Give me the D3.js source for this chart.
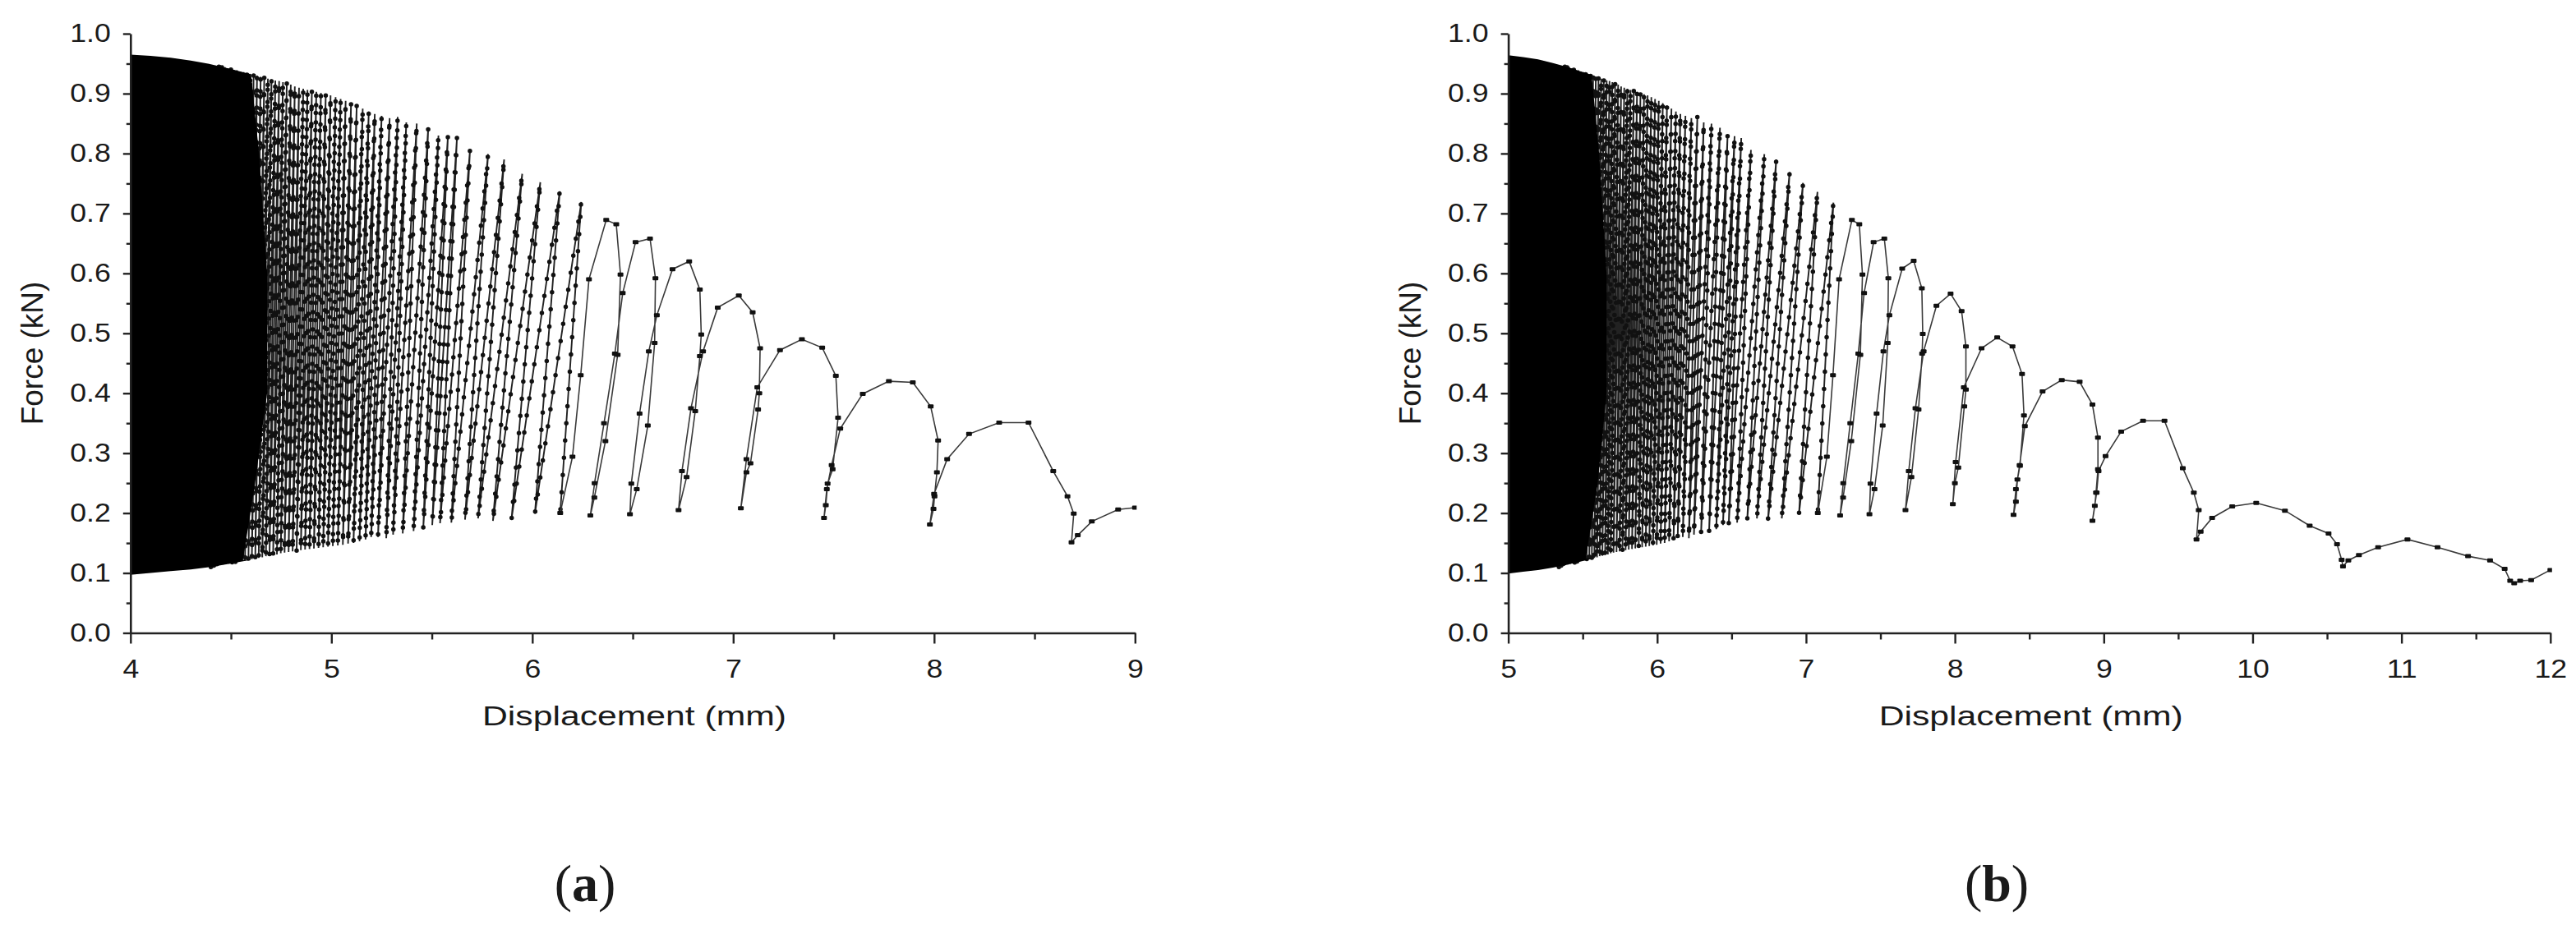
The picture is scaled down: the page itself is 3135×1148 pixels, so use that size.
<!DOCTYPE html>
<html>
<head>
<meta charset="UTF-8">
<title>Force - Displacement</title>
<script src="https://d3js.org/d3.v7.min.js"></script>
<style>
  body { margin: 0; background: #fff; }
  svg text { font-family: "Liberation Sans", Arial, sans-serif; fill: #1a1a1a; }
</style>
</head>
<body>
<svg id="fig" width="3135" height="1148"></svg>
<script>
// ---- panel (a) ----
// solid black block at the start (outline of the very dense cycles)
var aEnvX   = [4.0, 4.1, 4.2, 4.3, 4.4, 4.5, 4.6];
var aEnvTop = [0.965, 0.963, 0.960, 0.955, 0.949, 0.941, 0.932];
var aEnvBot = [0.097, 0.100, 0.103, 0.106, 0.110, 0.116, 0.122];
var aEdgeF  = [0.932, 0.80, 0.60, 0.40, 0.25, 0.122];
var aEdgeX  = [4.60, 4.64, 4.68, 4.68, 4.62, 4.56];
// narrow cycles: valley and peak of every cycle
var aMinX = [4.40, 4.415, 4.43, 4.445, 4.46, 4.475, 4.49, 4.506, 4.522, 4.538,
             4.554, 4.57, 4.587, 4.604, 4.621, 4.638, 4.656, 4.674, 4.692, 4.71,
             4.729, 4.748, 4.767, 4.787, 4.807, 4.827, 4.848, 4.869, 4.891, 4.913,
             4.936, 4.959, 4.983, 5.007, 5.032, 5.057, 5.083, 5.11, 5.14, 5.17,
             5.198, 5.232, 5.273, 5.307, 5.355, 5.409, 5.457, 5.502, 5.541, 5.597,
             5.665, 5.73, 5.804, 5.897, 6.013, 6.139];
var aMinF = [0.110, 0.111, 0.112, 0.113, 0.114, 0.115, 0.116, 0.117, 0.118, 0.119,
             0.120, 0.121, 0.122, 0.123, 0.124, 0.125, 0.126, 0.128, 0.129, 0.130,
             0.131, 0.133, 0.134, 0.135, 0.136, 0.137, 0.138, 0.139, 0.140, 0.141,
             0.142, 0.143, 0.144, 0.145, 0.146, 0.147, 0.149, 0.150, 0.153, 0.156,
             0.160, 0.160, 0.158, 0.164, 0.166, 0.170, 0.173, 0.180, 0.183, 0.184,
             0.189, 0.191, 0.187, 0.191, 0.199, 0.200];
var aPeakX = [4.44, 4.455, 4.47, 4.485, 4.50, 4.515, 4.53, 4.547, 4.563, 4.58,
              4.596, 4.613, 4.63, 4.648, 4.666, 4.684, 4.702, 4.721, 4.74, 4.759,
              4.778, 4.798, 4.818, 4.839, 4.86, 4.881, 4.903, 4.925, 4.948, 4.972,
              4.996, 5.021, 5.046, 5.071, 5.098, 5.126, 5.156, 5.186, 5.216, 5.25,
              5.29, 5.33, 5.373, 5.425, 5.482, 5.533, 5.58, 5.625, 5.69, 5.78,
              5.86, 5.95, 6.04, 6.137, 6.244];
var aPeakF = [0.946, 0.944, 0.944, 0.942, 0.941, 0.939, 0.939, 0.937, 0.936, 0.934,
              0.933, 0.931, 0.930, 0.928, 0.927, 0.925, 0.924, 0.922, 0.921, 0.919,
              0.917, 0.915, 0.912, 0.910, 0.908, 0.906, 0.905, 0.903, 0.901, 0.899,
              0.897, 0.894, 0.891, 0.888, 0.884, 0.880, 0.875, 0.870, 0.866, 0.863,
              0.859, 0.861, 0.852, 0.850, 0.843, 0.830, 0.829, 0.826, 0.806, 0.799,
              0.790, 0.766, 0.752, 0.737, 0.719];
// wide cycles, every recorded point
var aTailX = [6.139, 6.2, 6.241, 6.282, 6.368, 6.418, 6.439, 6.425, 6.364, 6.309, 6.289,
              6.31, 6.357, 6.411, 6.45, 6.514, 6.586, 6.613, 6.609, 6.575, 6.52, 6.486,
              6.493, 6.534, 6.58, 6.62, 6.698, 6.781, 6.834, 6.841, 6.834, 6.811, 6.768, 6.728,
              6.745, 6.79, 6.85, 6.923, 7.028, 7.097, 7.134, 7.13, 7.124, 7.086, 7.066, 7.038,
              7.066, 7.12, 7.233, 7.342, 7.443, 7.511, 7.522, 7.495, 7.47, 7.461, 7.452,
              7.466, 7.49, 7.533, 7.645, 7.775, 7.894, 7.983, 8.02, 8.014, 8.002, 7.997, 7.979,
              8.0, 8.065, 8.174, 8.324, 8.47, 8.593, 8.664, 8.695, 8.684, 8.715, 8.785, 8.916, 9.0];
var aTailF = [0.200, 0.294, 0.430, 0.590, 0.689, 0.682, 0.598, 0.464, 0.320, 0.226, 0.196,
              0.250, 0.350, 0.466, 0.567, 0.652, 0.658, 0.592, 0.484, 0.346, 0.240, 0.198,
              0.249, 0.366, 0.470, 0.530, 0.607, 0.620, 0.573, 0.498, 0.462, 0.370, 0.260, 0.205,
              0.270, 0.375, 0.470, 0.543, 0.563, 0.535, 0.475, 0.400, 0.373, 0.283, 0.268, 0.208,
              0.290, 0.410, 0.472, 0.490, 0.476, 0.429, 0.359, 0.273, 0.249, 0.213, 0.192,
              0.240, 0.280, 0.341, 0.399, 0.420, 0.418, 0.378, 0.321, 0.268, 0.228, 0.207, 0.181,
              0.232, 0.290, 0.332, 0.351, 0.351, 0.270, 0.228, 0.199, 0.151, 0.163, 0.186, 0.206, 0.209];

// ---- panel (b) ----
var bEnvX   = [5.0, 5.1, 5.2, 5.3, 5.4, 5.5, 5.56];
var bEnvTop = [0.964, 0.961, 0.957, 0.951, 0.944, 0.936, 0.931];
var bEnvBot = [0.099, 0.102, 0.105, 0.109, 0.114, 0.120, 0.124];
var bEdgeF  = [0.931, 0.80, 0.60, 0.40, 0.25, 0.124];
var bEdgeX  = [5.56, 5.61, 5.66, 5.66, 5.60, 5.52];
var bMinX = [5.34, 5.355, 5.37, 5.385, 5.40, 5.415, 5.43, 5.446, 5.462, 5.478,
             5.494, 5.51, 5.527, 5.544, 5.561, 5.578, 5.596, 5.614, 5.632, 5.65,
             5.669, 5.688, 5.707, 5.727, 5.747, 5.767, 5.788, 5.809, 5.831, 5.853,
             5.876, 5.899, 5.923, 5.947, 5.972, 5.997, 6.023, 6.05, 6.08, 6.11,
             6.138, 6.172, 6.213, 6.247, 6.295, 6.349, 6.397, 6.442, 6.481, 6.537,
             6.605, 6.67, 6.744, 6.837, 6.953, 7.079];
var bMinF = [0.110, 0.111, 0.112, 0.113, 0.114, 0.115, 0.116, 0.117, 0.118, 0.119,
             0.120, 0.121, 0.122, 0.123, 0.124, 0.125, 0.126, 0.128, 0.129, 0.130,
             0.131, 0.133, 0.134, 0.135, 0.136, 0.137, 0.138, 0.139, 0.140, 0.141,
             0.142, 0.143, 0.144, 0.145, 0.146, 0.147, 0.149, 0.150, 0.153, 0.156,
             0.160, 0.160, 0.158, 0.164, 0.166, 0.170, 0.173, 0.180, 0.183, 0.184,
             0.189, 0.191, 0.187, 0.191, 0.199, 0.200];
var bPeakX = [5.38, 5.395, 5.41, 5.425, 5.44, 5.455, 5.47, 5.487, 5.503, 5.52,
              5.536, 5.553, 5.57, 5.588, 5.606, 5.624, 5.642, 5.661, 5.68, 5.699,
              5.718, 5.738, 5.758, 5.779, 5.80, 5.821, 5.843, 5.865, 5.888, 5.912,
              5.936, 5.961, 5.986, 6.011, 6.038, 6.066, 6.096, 6.126, 6.156, 6.19,
              6.23, 6.27, 6.313, 6.365, 6.422, 6.473, 6.52, 6.565, 6.63, 6.72,
              6.8, 6.89, 6.98, 7.077, 7.184];
var bPeakF = [0.946, 0.944, 0.944, 0.942, 0.941, 0.939, 0.939, 0.937, 0.936, 0.934,
              0.933, 0.931, 0.930, 0.928, 0.927, 0.925, 0.924, 0.922, 0.921, 0.919,
              0.917, 0.915, 0.912, 0.910, 0.908, 0.906, 0.905, 0.903, 0.901, 0.899,
              0.897, 0.894, 0.891, 0.888, 0.884, 0.880, 0.875, 0.870, 0.866, 0.863,
              0.859, 0.861, 0.852, 0.850, 0.843, 0.830, 0.829, 0.826, 0.806, 0.799,
              0.790, 0.769, 0.751, 0.736, 0.718];
var bTailX = [7.079, 7.14, 7.181, 7.222, 7.308, 7.358, 7.379, 7.365, 7.304, 7.249, 7.229,
              7.25, 7.297, 7.351, 7.39, 7.454, 7.526, 7.553, 7.549, 7.515, 7.46, 7.426,
              7.433, 7.474, 7.52, 7.56, 7.646, 7.723, 7.778, 7.784, 7.78, 7.756, 7.708, 7.668,
              7.69, 7.735, 7.79, 7.876, 7.971, 8.045, 8.074, 8.074, 8.063, 8.023, 8.0, 7.986,
              8.005, 8.06, 8.179, 8.284, 8.387, 8.451, 8.464, 8.437, 8.42, 8.41, 8.394,
              8.41, 8.435, 8.47, 8.589, 8.718, 8.838, 8.924, 8.961, 8.961, 8.948, 8.94, 8.924,
              8.952, 8.965, 9.012, 9.117, 9.264, 9.408, 9.531, 9.605, 9.638, 9.623,
              9.651, 9.728, 9.863, 10.024, 10.217, 10.383, 10.51, 10.567, 10.598, 10.607,
              10.643, 10.714, 10.843, 11.04, 11.242, 11.447, 11.595, 11.693, 11.73, 11.757, 11.797, 11.871, 12.0];
var bTailF = [0.200, 0.294, 0.430, 0.590, 0.689, 0.682, 0.598, 0.464, 0.320, 0.226, 0.196,
              0.250, 0.350, 0.466, 0.567, 0.652, 0.658, 0.592, 0.484, 0.346, 0.240, 0.198,
              0.249, 0.366, 0.470, 0.530, 0.608, 0.621, 0.575, 0.499, 0.466, 0.373, 0.260, 0.205,
              0.270, 0.375, 0.470, 0.546, 0.566, 0.537, 0.478, 0.406, 0.378, 0.276, 0.250, 0.215,
              0.285, 0.410, 0.475, 0.493, 0.478, 0.432, 0.363, 0.279, 0.256, 0.219, 0.197,
              0.240, 0.280, 0.345, 0.403, 0.422, 0.419, 0.381, 0.326, 0.273, 0.234, 0.212, 0.187,
              0.234, 0.270, 0.295, 0.336, 0.354, 0.354, 0.275, 0.234, 0.205, 0.156,
              0.169, 0.192, 0.211, 0.217, 0.204, 0.179, 0.166, 0.148, 0.122, 0.111,
              0.121, 0.130, 0.143, 0.156, 0.143, 0.128, 0.121, 0.107, 0.087, 0.083, 0.087, 0.088, 0.105];

var forceTicks = [0, 0.1, 0.2, 0.3, 0.4, 0.5, 0.6, 0.7, 0.8, 0.9, 1.0];

var svg = d3.select("#fig");

function stretch(sel, k) {
  sel.each(function() {
    var w = this.getComputedTextLength();
    this.setAttribute("textLength", w * k);
    this.setAttribute("lengthAdjust", "spacingAndGlyphs");
  });
}

function panel(o) {
  var x = d3.scaleLinear().domain(o.domain).range(o.range);
  var y = d3.scaleLinear().domain([0, 1]).range([770.5, 41]);
  var g = svg.append("g");

  g.append("clipPath").attr("id", "clip" + o.id)
    .append("rect")
    .attr("x", o.range[0]).attr("y", 30)
    .attr("width", o.range[1] - o.range[0] + 2).attr("height", 745);
  var plot = g.append("g").attr("clip-path", "url(#clip" + o.id + ")");

  var line = d3.line().x(function(d) { return x(d[0]); }).y(function(d) { return y(d[1]); });

  // narrow cycles
  var loops = [];
  o.minX.forEach(function(m, i) {
    loops.push([m, o.minF[i]]);
    if (i < o.peakX.length) loops.push([o.peakX[i], o.peakF[i]]);
  });
  plot.append("path").datum(loops)
    .attr("fill", "none").attr("stroke", "#222").attr("stroke-width", 1.9)
    .attr("d", line);
  plot.append("path").datum(loops)
    .attr("fill", "none").attr("stroke", "#111").attr("stroke-width", 5.5)
    .attr("stroke-linecap", "round").attr("stroke-dasharray", "0 21")
    .attr("d", line);

  // dense part drawn over them: top envelope, right edge, bottom envelope back
  var block = o.envX.map(function(d, i) { return [d, o.envTop[i]]; });
  o.edgeX.forEach(function(d, i) { block.push([d, o.edgeF[i]]); });
  for (var i = o.envX.length - 1; i >= 0; i--) block.push([o.envX[i], o.envBot[i]]);
  plot.append("path").datum(block)
    .attr("fill", "#000")
    .attr("d", line.curve(d3.curveLinearClosed));
  line.curve(d3.curveLinear);

  // wide cycles
  var tail = o.tailX.map(function(d, i) { return [d, o.tailF[i]]; });
  plot.append("path").datum(tail)
    .attr("fill", "none").attr("stroke", "#3a3a3a").attr("stroke-width", 1.6)
    .attr("d", line);
  plot.selectAll(".pt").data(tail).enter().append("rect")
    .attr("x", function(d) { return x(d[0]) - 3.5; })
    .attr("y", function(d) { return y(d[1]) - 2.5; })
    .attr("width", 7).attr("height", 5).attr("rx", 1)
    .attr("fill", "#111");

  // axes
  var ya = g.append("g").attr("transform", "translate(" + o.range[0] + ",0)")
    .call(d3.axisLeft(y).tickValues(forceTicks).tickFormat(d3.format(".1f"))
      .tickSize(9).tickSizeOuter(0).tickPadding(15));
  g.append("g").attr("transform", "translate(" + o.range[0] + ",0)")
    .call(d3.axisLeft(y).tickValues(forceTicks.slice(0, 10).map(function(d) { return d + 0.05; }))
      .tickFormat("").tickSize(5).tickSizeOuter(0))
    .select(".domain").remove();

  var xa = g.append("g").attr("transform", "translate(0,770.5)")
    .call(d3.axisBottom(x).tickValues(o.xTicks).tickFormat(d3.format("d"))
      .tickSize(13).tickSizeOuter(0).tickPadding(19));
  g.append("g").attr("transform", "translate(0,770.5)")
    .call(d3.axisBottom(x).tickValues(o.xTicks.slice(0, -1).map(function(d) { return d + 0.5; }))
      .tickFormat("").tickSize(8).tickSizeOuter(0))
    .select(".domain").remove();

  g.selectAll(".domain").attr("stroke", "#222").attr("stroke-width", 2.6);
  g.selectAll(".tick line").attr("stroke", "#222").attr("stroke-width", 2.4);
  ya.selectAll("text").style("font-size", "31px").attr("fill", "#1a1a1a");
  xa.selectAll("text").style("font-size", "31px").attr("fill", "#1a1a1a");
  stretch(ya.selectAll("text"), 1.15);
  stretch(xa.selectAll("text"), 1.15);

  // titles
  g.append("text")
    .attr("transform", "translate(" + (o.range[0] - 107) + ",430) rotate(-90)")
    .attr("text-anchor", "middle")
    .style("font-size", "37px")
    .text("Force (kN)");
  g.append("text")
    .attr("x", (o.range[0] + o.range[1]) / 2 + 2).attr("y", 883)
    .attr("text-anchor", "middle")
    .attr("textLength", 370).attr("lengthAdjust", "spacingAndGlyphs")
    .style("font-size", "33px")
    .text("Displacement (mm)");

  var cap = g.append("text")
    .attr("x", o.capX).attr("y", 1097)
    .attr("text-anchor", "middle")
    .style("font-family", "'Liberation Serif', 'DejaVu Serif', serif")
    .style("font-size", "64px");
  cap.append("tspan").text("(");
  cap.append("tspan").style("font-weight", "bold").text(o.id);
  cap.append("tspan").text(")");
}

panel({
  id: "a", domain: [4, 9], range: [158.8, 1381.3], xTicks: [4, 5, 6, 7, 8, 9],
  envX: aEnvX, envTop: aEnvTop, envBot: aEnvBot, edgeX: aEdgeX, edgeF: aEdgeF,
  minX: aMinX, minF: aMinF, peakX: aPeakX, peakF: aPeakF,
  tailX: aTailX, tailF: aTailF, capX: 712
});
panel({
  id: "b", domain: [5, 12], range: [1835.6, 3103.8], xTicks: [5, 6, 7, 8, 9, 10, 11, 12],
  envX: bEnvX, envTop: bEnvTop, envBot: bEnvBot, edgeX: bEdgeX, edgeF: bEdgeF,
  minX: bMinX, minF: bMinF, peakX: bPeakX, peakF: bPeakF,
  tailX: bTailX, tailF: bTailF, capX: 2430
});
</script>
</body>
</html>
